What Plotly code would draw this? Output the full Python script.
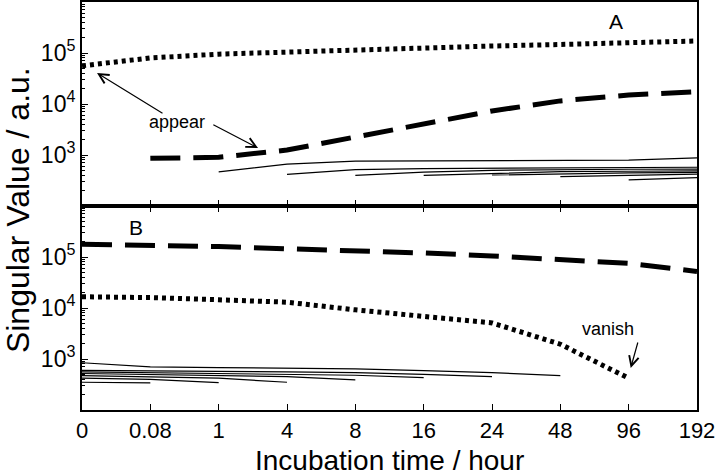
import plotly.graph_objects as go
from plotly.subplots import make_subplots

times = ["0", "0.08", "1", "4", "8", "16", "24", "48", "96", "192"]

# Panel A (singular values appear as more spectra are added)
A_sv1 = [5.6e4, 8.0e4, 9.5e4, 1.05e5, 1.15e5, 1.25e5, 1.37e5, 1.47e5, 1.57e5, 1.72e5]   # from "0"
A_sv2 = [860, 900, 1250, 2250, 4200, 7300, 1.15e4, 1.5e4, 1.74e4]                     # from "0.08"
A_sv3 = [465, 665, 760, 770, 770, 770, 790, 880]                                       # from "1"
A_sv4 = [418, 515, 540, 550, 555, 560, 575]                                            # from "4"
A_sv5 = [400, 460, 500, 520, 525, 530]                                                 # from "8"
A_sv6 = [400, 440, 470, 480, 490]                                                      # from "16"
A_sv7 = [405, 430, 445, 455]                                                           # from "24"
A_sv8 = [376, 400, 420]                                                                # from "48"
A_sv9 = [324, 360]                                                                     # from "96"

# Panel B (singular values vanish as spectra are removed)
B_sv1 = [1.78e5, 1.7e5, 1.6e5, 1.45e5, 1.33e5, 1.2e5, 1.05e5, 9.0e4, 7.5e4, 5.2e4]  # to "192"
B_sv2 = [1.66e4, 1.6e4, 1.45e4, 1.3e4, 9.2e3, 6.8e3, 5.1e3, 1.95e3, 420]             # to "96"
B_sv3 = [845, 700, 680, 670, 640, 590, 540, 470]                                       # to "48"
B_sv4 = [600, 580, 570, 560, 540, 500, 450]                                            # to "24"
B_sv5 = [560, 540, 530, 510, 480, 430]                                                 # to "16"
B_sv6 = [520, 500, 480, 450, 390]                                                      # to "8"
B_sv7 = [470, 450, 420, 350]                                                           # to "4"
B_sv8 = [420, 400, 345]                                                                # to "1"
B_sv9 = [350, 340]                                                                     # to "0.08"

ytick_vals = [1e3, 1e4, 1e5]
ytick_text = ["10<sup>3</sup>", "10<sup>4</sup>", "10<sup>5</sup>"]
minor_vals = [k * 10 ** d for d in range(2, 6) for k in range(2, 10)]

FONT = "Liberation Sans, Arial, sans-serif"

fig = make_subplots(rows=2, cols=1, shared_xaxes=False, vertical_spacing=0)

dot_style = dict(color="black", width=5, dash="4px,4px")
dash_style = dict(color="black", width=5, dash="30px,13px")
thin = dict(color="black", width=1.2)

# panel A
fig.add_trace(go.Scatter(x=times, y=A_sv1, mode="lines", line=dot_style), row=1, col=1)
fig.add_trace(go.Scatter(x=times[1:], y=A_sv2, mode="lines", line=dash_style), row=1, col=1)
for start, vals in [(2, A_sv3), (3, A_sv4), (4, A_sv5), (5, A_sv6), (6, A_sv7), (7, A_sv8), (8, A_sv9)]:
    fig.add_trace(go.Scatter(x=times[start:], y=vals, mode="lines", line=thin), row=1, col=1)

# panel B
fig.add_trace(go.Scatter(x=times, y=B_sv1, mode="lines", line=dash_style), row=2, col=1)
fig.add_trace(go.Scatter(x=times[:9], y=B_sv2, mode="lines", line=dot_style), row=2, col=1)
for end, vals in [(8, B_sv3), (7, B_sv4), (6, B_sv5), (5, B_sv6), (4, B_sv7), (3, B_sv8), (2, B_sv9)]:
    fig.add_trace(go.Scatter(x=times[:end], y=vals, mode="lines", line=thin), row=2, col=1)

xcommon = dict(type="category", categoryorder="array", categoryarray=times,
               range=[0, 9], showgrid=False, zeroline=False, showline=True,
               linecolor="black", linewidth=2, ticks="inside", ticklen=6,
               tickwidth=1.3, tickcolor="black", automargin=False,
               tickfont=dict(family=FONT, size=22, color="black"))
fig.update_xaxes(**xcommon)
fig.update_xaxes(showticklabels=False, mirror=True, row=1, col=1)
fig.update_xaxes(showticklabels=True, mirror="ticks", row=2, col=1)

fig.update_yaxes(type="log", range=[2, 6], showgrid=False, zeroline=False,
                 showline=True, linecolor="black", linewidth=2, mirror=True,
                 ticks="inside", ticklen=6, tickwidth=1.3, tickcolor="black",
                 tickmode="array", tickvals=ytick_vals, ticktext=ytick_text,
                 automargin=False,
                 tickfont=dict(family=FONT, size=23, color="black"),
                 minor=dict(tickmode="array", tickvals=minor_vals, ticks="inside",
                            ticklen=3, tickwidth=1, tickcolor="black"))

fig.update_layout(
    width=720, height=476,
    margin=dict(l=82, r=23, t=2, b=66),
    paper_bgcolor="white", plot_bgcolor="white",
    showlegend=False,
    font=dict(family=FONT, color="black"),
)
fig.layout.yaxis.domain = [0.5, 1.0]
fig.layout.yaxis2.domain = [0.0, 0.5]

ann_font = dict(family=FONT, size=18, color="black")
fig.add_annotation(x=1.39, y=3.647, xref="x", yref="y", text="appear",
                   showarrow=False, font=ann_font, xanchor="center", yanchor="middle")
fig.add_annotation(x=0.22, y=4.608, xref="x", yref="y", ax=1.20, ay=3.80,
                   axref="x", ayref="y", text="", showarrow=True,
                   arrowhead=5, arrowsize=1.6, arrowwidth=1.2, arrowcolor="black")
fig.add_annotation(x=2.576, y=3.137, xref="x", yref="y", ax=1.90, ay=3.608,
                   axref="x", ayref="y", text="", showarrow=True,
                   arrowhead=5, arrowsize=1.6, arrowwidth=1.2, arrowcolor="black")
fig.add_annotation(x=7.70, y=3.588, xref="x2", yref="y2", text="vanish",
                   showarrow=False, font=ann_font, xanchor="center", yanchor="middle")
fig.add_annotation(x=8.03, y=2.824, xref="x2", yref="y2", ax=8.14, ay=3.353,
                   axref="x2", ayref="y2", text="", showarrow=True,
                   arrowhead=5, arrowsize=1.6, arrowwidth=1.2, arrowcolor="black")
fig.add_annotation(x=7.81, y=5.62, xref="x", yref="y", text="A",
                   showarrow=False, font=dict(family=FONT, size=21, color="black"),
                   xanchor="center", yanchor="middle")
fig.add_annotation(x=0.79, y=5.588, xref="x2", yref="y2", text="B",
                   showarrow=False, font=dict(family=FONT, size=21, color="black"),
                   xanchor="center", yanchor="middle")

# axis titles
fig.add_annotation(x=(18 - 82) / 615, y=0.49, xref="paper", yref="paper",
                   text="Singular Value / a.u.", textangle=-90, showarrow=False,
                   xanchor="center", yanchor="middle",
                   font=dict(family=FONT, size=32, color="black"))
fig.add_annotation(x=0.5, y=(410 - 460) / 408, xref="paper", yref="paper",
                   text="Incubation time / hour", showarrow=False,
                   xanchor="center", yanchor="middle",
                   font=dict(family=FONT, size=28, color="black"))

fig.write_html("out.html",
               config={"displayModeBar": False},
               post_script="document.body.style.margin='0';document.body.style.overflow='hidden';")
